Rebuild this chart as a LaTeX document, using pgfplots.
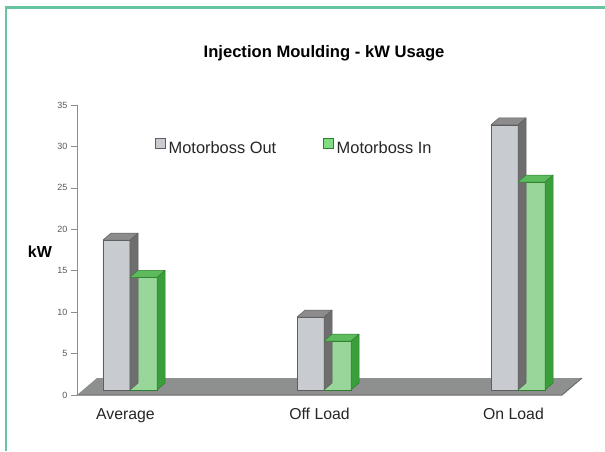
\documentclass[border=0pt]{standalone}
\usepackage{pgfplots}
\pgfplotsset{compat=1.18}
\usepackage{pgfplotstable}
\usepackage{fontspec}
\setmainfont{Liberation Sans}
\definecolor{bordercol}{HTML}{66C49E}
\definecolor{grayfront}{HTML}{C8CBCF}
\definecolor{grayside}{HTML}{6E6E6E}
\definecolor{graytop}{HTML}{8C8C8C}
\definecolor{grayedge}{HTML}{5E5E5E}
\definecolor{greenfront}{HTML}{99D699}
\definecolor{greenside}{HTML}{3A9E3A}
\definecolor{greentop}{HTML}{5DBA5D}
\definecolor{greenedge}{HTML}{2E7F2E}
\definecolor{floorcol}{HTML}{8E8F8F}
\definecolor{flooredge}{HTML}{6A6B6B}

\pgfplotstableread{
x   out   in
1   18.1  13.6
2   8.8   5.9
3   32.0  25.1
}\kwdata

% side and top faces of a 3D bar, drawn at the top of each bar
% #1 = left x of front face (pt), #2 = right x, #3 side colour, #4 top colour, #5 edge colour
\newcommand\threedfaces[5]{%
  \pgfmathsetmacro\hh{\vv*290/35}%
  \pgfmathsetmacro\bb{5-\hh}%
  \pgfmathsetmacro\bbk{12-\hh}%
  \pgfmathsetmacro\xlb{#1+8}%
  \pgfmathsetmacro\xrb{#2+8}%
  \fill[#3, draw=#5, line width=0.5pt, line join=round]
     (#2pt,5pt) -- (\xrb pt,12pt) -- (\xrb pt,\bbk pt) -- (#2pt,\bb pt) -- cycle;
  \fill[#4, draw=#5, line width=0.5pt, line join=round]
     (#1pt,5pt) -- (#2pt,5pt) -- (\xrb pt,12pt) -- (\xlb pt,12pt) -- cycle;
}

\begin{document}
\begin{tikzpicture}
\useasboundingbox (-77pt,-56pt) rectangle (528pt,395pt);
\fill[white] (-77pt,-56pt) rectangle (528pt,395pt);
\draw[bordercol, line width=2.4pt] (-70.8pt,-56pt) -- (-70.8pt,389pt);
\draw[bordercol, line width=3pt] (-72pt,387.8pt) -- (528pt,387.8pt);
\begin{axis}[
  scale only axis,
  width=485pt, height=290pt,
  xmin=0.75, xmax=3.25,
  ymin=0, ymax=35,
  clip=false,
  axis lines*=left,
  x axis line style={draw=none},
  y axis line style={draw=gray!90, line width=0.6pt},
  tick align=outside,
  ytick={0,5,...,35},
  major tick length=6pt,
  y tick style={draw=gray!90, line width=0.6pt},
  xtick={1,2,3},
  xticklabels={Average,Off Load,On Load},
  x tick style={draw=none},
  extra x ticks={0.75,1.25,...,3.25},
  extra x tick labels={},
  extra x tick style={tick style={draw=gray!80, line width=0.5pt}, major tick length=3pt},
  y tick label style={font=\fontsize{9}{10}\selectfont, text=black!65},
  /pgf/number format/assume math mode=true,
  x tick label style={font=\fontsize{15.8}{18}\selectfont, text=black!85, yshift=-4pt},
  title={Injection Moulding - kW Usage},
  title style={at={(0.5093,1)}, anchor=center, yshift=46pt, font=\bfseries\fontsize{16.6}{19}\selectfont},
  ylabel={kW},
  every axis y label/.style={at={(-0.0763,0.493)}, anchor=center, font=\bfseries\fontsize{16}{19}\selectfont},
  legend style={at={(0.1608,0.855)}, anchor=west, draw=none, fill=none, inner sep=0pt,
    font=\fontsize{16.4}{18}\selectfont, text=black!85,
    nodes={inner xsep=3pt},
    /tikz/every even column/.append style={column sep=44pt}},
  legend columns=2,
  legend cell align=left,
]
% floor
\fill[floorcol] (axis cs:0.75,0) -- (axis cs:3.25,0) -- ([shift={(20pt,17pt)}]axis cs:3.25,0) -- ([shift={(20pt,17pt)}]axis cs:0.75,0) -- cycle;
\draw[flooredge, line width=1pt] (axis cs:0.75,0) -- (axis cs:3.25,0) -- ([shift={(20pt,17pt)}]axis cs:3.25,0);

% Motorboss Out : front faces
\addplot[ybar, bar width=27pt, bar shift=-9pt, yshift=5pt,
  fill=grayfront, draw=grayedge, line width=0.5pt,
  legend image code/.code={\draw[fill=grayfront, draw=grayedge, line width=0.5pt] (0pt,-5pt) rectangle (10pt,5pt);}]
  table[x=x, y=out] {\kwdata};
\addlegendentry{Motorboss Out}
% Motorboss Out : side and top faces
\addplot[forget plot, only marks, scatter, mark=*, mark size=0.1pt,
  visualization depends on={\thisrow{out} \as \vv},
  scatter/@pre marker code/.code={\threedfaces{-22.5}{4.5}{grayside}{graytop}{grayedge}\begin{scope}[opacity=0]},
  scatter/@post marker code/.code={\end{scope}}]
  table[x=x, y=out] {\kwdata};

% Motorboss In : front faces
\addplot[ybar, bar width=27pt, bar shift=18pt, yshift=5pt,
  fill=greenfront, draw=greenedge, line width=0.5pt,
  legend image code/.code={\draw[fill=greenfront!85!green, draw=greenedge, line width=0.5pt] (0pt,-5pt) rectangle (10pt,5pt);}]
  table[x=x, y=in] {\kwdata};
\addlegendentry{Motorboss In}
% Motorboss In : side and top faces
\addplot[forget plot, only marks, scatter, mark=*, mark size=0.1pt,
  visualization depends on={\thisrow{in} \as \vv},
  scatter/@pre marker code/.code={\threedfaces{4.5}{31.5}{greenside}{greentop}{greenedge}\begin{scope}[opacity=0]},
  scatter/@post marker code/.code={\end{scope}}]
  table[x=x, y=in] {\kwdata};
\end{axis}
\end{tikzpicture}
\end{document}
